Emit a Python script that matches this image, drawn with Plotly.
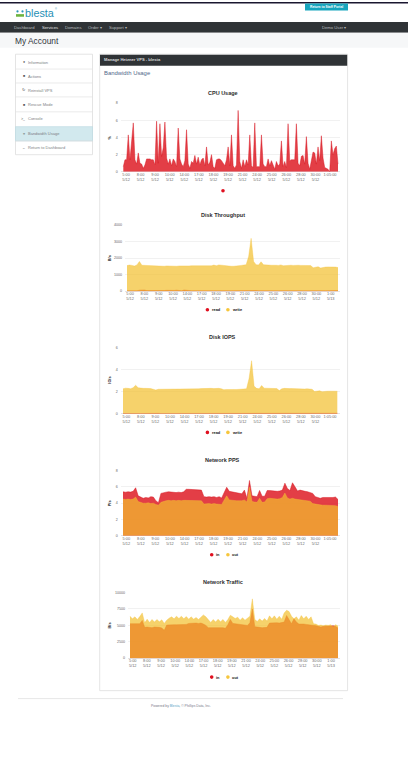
import plotly.graph_objects as go

# ---------- data ----------
cpu_values = [.6,1.4,1.4,4.3,1.4,3.6,5.7,1.4,.9,2.2,
 1.0,.9,.4,.8,1.5,1.5,1.5,1.4,1.4,.8,
 5.9,1.0,5.6,1.8,2.8,5.8,1.6,.9,1.5,.7,
 1.5,1.2,.6,5.1,1.5,.9,.6,1.3,4.9,.9,
 .4,1.2,1.0,1.9,.9,1.7,.8,1.4,1.6,.7,
 2.9,.8,1.1,2.0,.6,.4,1.4,1.5,1.5,1.3,
 1.0,.7,1.4,2.9,.7,4.3,.7,.4,.8,7.15,
 1.2,.4,1.4,.6,1.4,.8,4.3,.7,.5,5.7,
 .6,.6,.6,4.3,.9,.6,.6,1.5,.7,1.3,
 .9,.3,1.2,.7,.9,3.6,.6,1.2,.5,5.6,
 1.3,1.4,1.4,1.4,5.6,1.0,.7,1.8,1.9,.9,
 4.1,1.0,.3,1.4,2.3,2.2,.9,2.9,1.3,4.2,
 1.6,.5,.4,.3,.0,3.6,2.0,2.7,3.0,.9]

tp_read = [30,25,40,30,25,60,80,70,35,30,
 20,25,30,20,25,40,50,35,30,45,
 60,35,25,70,40,30,25,30,35,25,
 30,60,45,25,30,25,30,40,25,30,
 70,30,25,30,35,30,25,40,30,45,
 60,80,40,30,25,30,35,30,25,30,
 30,25,30,35,30,25,30,60,30,25,
 30,25,30,35,25,30,25,30,35,30,
 25,30,35,60,50,40]
tp_write = [1550,1580,1560,1520,1590,1800,1570,1560,1550,1560,
 1570,1540,1550,1520,1530,1510,1530,1520,1530,1500,
 1510,1530,1520,1540,1540,1530,1540,1540,1530,1550,
 1540,1530,1550,1520,1540,1580,1540,1590,1570,1540,
 1510,1530,1510,1510,1540,1550,1560,1580,1600,2100,
 3200,1800,1600,1590,1780,1600,1610,1580,1570,1590,
 1570,1560,1590,1540,1560,1590,1570,1560,1580,1570,
 1560,1560,1540,1560,1550,1420,1460,1480,1400,1440,
 1460,1470,1470,1490,1460,1430]

iops_read = [.03,.04,.03,.05,.03,.04,.03,.03,.04,.03,
 .03,.04,.03,.03,.04,.03,.03,.05,.03,.03,
 .04,.03,.03,.04,.03,.05,.04,.03,.03,.04,
 .03,.04,.03,.03,.05,.03,.04,.03,.03,.04,
 .05,.03,.03,.04,.03,.03,.04,.03,.05,.04,
 .06,.05,.03,.04,.03,.03,.04,.03,.03,.04,
 .03,.03,.04,.03,.05,.03,.03,.04,.03,.03,
 .04,.03,.03,.04,.03,.03,.04,.03,.05,.03,
 .03,.04,.03,.03,.04,.05]
iops_write = [2.26,2.32,2.30,2.27,2.36,2.58,2.36,2.30,2.30,2.30,
 2.30,2.28,2.22,2.15,2.22,2.22,2.20,2.24,2.20,2.26,
 2.22,2.24,2.22,2.26,2.24,2.26,2.24,2.26,2.24,2.26,
 2.26,2.28,2.30,2.26,2.28,2.30,2.28,2.32,2.30,2.26,
 2.18,2.20,2.22,2.18,2.20,2.20,2.20,2.24,2.26,2.26,
 3.2,4.8,2.5,2.30,2.26,2.56,2.32,2.30,2.28,2.28,
 2.30,2.28,2.10,2.26,2.30,2.26,2.28,2.28,2.26,2.30,
 2.28,2.26,2.24,2.26,2.24,2.22,2.02,2.06,2.08,2.00,
 2.04,2.04,2.05,2.04,2.05,2.04]

pps_in = [5.4,5.35,5.4,5.36,5.45,5.89,4.9,4.75,4.6,4.7,
 4.65,4.8,4.75,4.3,4.06,5.2,5.3,5.35,5.4,5.35,
 5.35,5.3,5.35,5.3,5.4,5.7,5.7,5.68,5.7,5.72,
 5.7,5.6,4.8,4.75,4.8,4.75,4.8,4.7,4.8,4.65,
 5.3,5.95,5.45,5.4,5.35,5.25,5.2,5.15,5.6,4.6,
 6.78,4.9,4.85,4.8,5.56,4.85,4.85,5.55,5.55,5.5,
 5.5,5.45,5.5,5.6,6.45,5.8,5.55,6.5,6.0,5.5,
 5.6,5.5,5.45,5.4,5.3,5.2,4.8,4.7,4.6,4.7,
 4.7,4.65,4.7,4.7,4.75,4.45]
pps_out = [4.5,4.45,4.5,4.45,4.5,4.75,4.2,4.05,4.0,4.0,
 4.05,3.95,4.0,3.85,3.75,4.1,4.25,4.3,4.35,4.3,
 4.35,4.3,4.35,4.3,4.35,4.35,4.3,4.35,4.35,4.3,
 4.35,4.3,3.9,3.95,3.95,3.9,3.95,3.9,3.9,3.85,
 4.4,4.9,4.4,4.35,4.35,4.3,4.3,4.3,4.4,4.15,
 5.95,4.2,4.15,4.1,4.6,4.1,4.15,4.55,4.6,4.55,
 4.55,4.5,4.55,4.7,5.25,4.65,4.5,4.6,4.5,4.45,
 4.4,4.4,4.35,4.3,4.25,3.95,3.9,3.85,3.75,3.75,
 3.75,3.75,3.7,3.75,3.7,3.6]

traffic_in = [5250,5250,5200,5250,5250,5760,4700,4750,4700,4650,
 4750,4750,4700,4600,4250,5050,5100,5150,5100,5100,
 5100,5100,5100,5150,5300,5350,5350,5350,5300,5350,
 5200,5000,4650,4650,4700,4650,4650,4600,4650,4550,
 5100,5900,5300,5250,5200,5150,5100,5050,5000,5400,
 7500,4800,4700,4700,4650,4700,4700,5350,5400,5400,
 5400,5350,5400,5500,6500,5900,5250,6000,5500,5200,
 5250,5200,5150,5100,5150,5100,4950,4850,4750,4850,
 4850,4800,4900,4950,4850,4600]
traffic_out = [6400,6000,6300,5900,6350,6900,5400,5950,5450,5900,
 5500,5900,5550,5850,5300,5800,6100,6300,6000,6400,
 6050,6400,6000,6350,5950,6300,5950,6200,5900,6300,
 6600,6300,5900,5450,5900,5500,5950,5550,5900,5450,
 5900,6550,6300,6050,6250,5800,6150,5800,6100,6400,
 9040,5900,5600,6000,5650,6050,5650,6450,6000,6450,
 5950,6400,5950,6900,7300,7100,6400,6000,6300,5800,
 6500,6000,6400,5900,6300,5250,5200,5000,5050,4950,
 5050,5000,5100,4800,5100,4900]

tick_times_a = ["5:00","8:00","9:00","10:00","14:00","17:00","18:00","19:00","21:00","24:00","25:00","26:00","28:00","30:00","1:05:00"]
tick_times_b = ["5:00","8:00","9:00","10:00","14:00","17:00","18:00","19:00","21:00","24:00","25:00","26:00","28:00","30:00","1:00"]
tick_dates = ["5/12"] * 14
tick_last_date_b = "5/13"

cpu_ticks = ["0","2","4","6","8"]
tp_ticks = ["0","1000","2000","3000","4000"]
iops_ticks = ["0","2","4","6"]
pps_ticks = ["0","2","4","6","8"]
traffic_ticks = ["0","2500","5000","7500","10000"]

legend_io = ["read","write"]
legend_net = ["in","out"]

# ---------- palette ----------
RED_FILL, RED_LINE = "rgba(222,30,40,0.86)", "rgba(215,20,30,0.9)"
YEL_FILL, YEL_LINE = "rgba(242,191,44,0.70)", "rgba(245,195,60,0.7)"
RED_DOT, YEL_DOT = "#e01020", "#f6c63c"
W, H = 408, 757
FONT = "Liberation Sans"

fig = go.Figure()
shapes, annos = [], []

def rect(x0, y0, x1, y1, fill=None, line=None, lw=0.8):
    shapes.append(dict(type="rect", xref="paper", yref="paper", x0=x0/W, x1=x1/W, y0=1-y0/H, y1=1-y1/H,
                       fillcolor=fill or "rgba(0,0,0,0)", line=dict(color=line or "rgba(0,0,0,0)", width=lw if line else 0),
                       layer="below"))

def hline(x0, x1, y, color, lw=0.8):
    shapes.append(dict(type="line", xref="paper", yref="paper", x0=x0/W, x1=x1/W, y0=1-y/H, y1=1-y/H,
                       line=dict(color=color, width=lw), layer="below"))

def dot(x, y, color, r=1.8):
    shapes.append(dict(type="circle", xref="paper", yref="paper", x0=(x-r)/W, x1=(x+r)/W, y0=1-(y+r)/H, y1=1-(y-r)/H,
                       fillcolor=color, line=dict(width=0), layer="above"))

def text(x, y, s, size, color="#333", anchor="left", bold=False, angle=0):
    annos.append(dict(xref="paper", yref="paper", x=x/W, y=1-y/H, text=f"<b>{s}</b>" if bold else s,
                      showarrow=False, xanchor=anchor, yanchor="middle", textangle=angle,
                      font=dict(family=FONT, size=size, color=color), borderpad=0, borderwidth=0))

# ---------- page chrome ----------
rect(0, 0, 408, 1.6, "#1a1730")
rect(305, 1.6, 348, 8.5, "#17a5bd")
text(326.5, 5.2, "Return to Staff Portal", 3.3, "#ffffff", "center", True)
rect(0, 20, 408, 31, "#2f3336")
rect(0, 31, 408, 46, "#f6f7f8")
# logo
text(25, 11.5, "blesta", 10.8, "#1f8fb5")
text(55.5, 7.2, "®", 2.6, "#1f8fb5")
shapes.append(dict(type="rect", xref="paper", yref="paper", x0=16/W, x1=24/W, y0=1-14.8/H, y1=1-12.2/H,
                   fillcolor="#6cb33f", line=dict(width=0), layer="below"))
dot(17.5, 9.5, "#2b94b9", 1.1)
dot(22.5, 9.5, "#2b94b9", 1.1)
for x, s, c in [(14, "Dashboard", "#b7babc"), (42, "Services", "#e4e5e6"), (65, "Domains", "#b7babc"),
                (88, "Order ▾", "#b7babc"), (109, "Support ▾", "#b7babc"), (322, "Demo User ▾", "#b7babc")]:
    text(x, 25.7, s, 4.2, c)
text(14.5, 39, "My Account", 8.4, "#30363c")

# sidebar
rect(15.5, 52.5, 92.5, 153.5, "#ffffff", "#dddddd", 0.8)
rect(15.5, 125.3, 92.5, 139.7, "#d2e9ee", "#b9d9e0", 0.6)
for y in [67.4, 81.4, 95.4, 110.4]:
    hline(15.5, 92.5, y, "#e2e2e2", 0.7)
hline(15.5, 92.5, 139.7, "#e2e2e2", 0.7)
side_items = ["Information", "Actions", "Reinstall VPS", "Rescue Mode", "Console", "Bandwidth Usage", "Return to Dashboard"]
side_icons = ["●", "■", "↻", "■", ">_", "≡", "←"]
side_y = [60.5, 74.5, 88.5, 103.5, 117.5, 132.5, 146.5]
for s, ic, y in zip(side_items, side_icons, side_y):
    text(23.8, y, ic, 3.6, "#555", "center")
    text(28, y, s, 4.0, "#7c7f84")

# main panel
rect(99.7, 52.5, 347.6, 692.3, "#ffffff", "#dddddd", 0.8)
rect(100, 53, 347.2, 64, "#2f3336")
text(104.2, 58.3, "Manage Hetzner VPS - blesta", 4.1, "#d8dadb", bold=True)
text(103.5, 71, "Bandwidth Usage", 5.9, "#50678a")

# footer
hline(18, 343, 700.3, "#dddddd", 0.7)
annos.append(dict(xref="paper", yref="paper", x=181/W, y=1-707.4/H, showarrow=False, xanchor="center", yanchor="middle",
                  text="Powered by <span style='color:#5b9fc5'>Blesta</span>, © Phillips Data, Inc.",
                  font=dict(family=FONT, size=3.4, color="#778")))

# ---------- charts ----------
layout_axes = {}

def add_chart(n, title, title_y, ylabel, grid_x, data_x, plot_y, ymax, ylabels, first_tick, last_tick,
              times, last_date, series, legend_names, legend_y, cpu_only=False):
    gl, gr = grid_x
    x0, x1 = data_x
    top, bot = plot_y
    N = len(series[0][0])
    dx = (x1 - x0) / (N - 1)
    xs = list(range(N))
    suffix = "" if n == 1 else str(n)
    for vals, fill, line, name in series:
        fig.add_trace(go.Scatter(x=xs, y=vals, mode="lines", fill="tozeroy", fillcolor=fill,
                                 line=dict(color=line, width=0.5), name=name,
                                 xaxis="x" + suffix, yaxis="y" + suffix, showlegend=False, hoverinfo="skip"))
    step = (last_tick - first_tick) / 14
    tickvals = [(first_tick + i * step - x0) / dx for i in range(15)]
    dates = tick_dates + [last_date]
    ticktext = [f"{t}<br>{d}" if d else t for t, d in zip(times, dates)]
    layout_axes["xaxis" + suffix] = dict(
        domain=[gl / W, gr / W], range=[-(x0 - gl) / dx, N - 1 + (gr - x1) / dx],
        anchor="y" + suffix, tickmode="array", tickvals=tickvals, ticktext=ticktext, tickangle=0,
        showgrid=False, zeroline=False, showline=False, ticks="", ticklen=0,
        tickfont=dict(family=FONT, size=3.9, color="#6a6a6a"), ticklabelstandoff=-1)
    layout_axes["yaxis" + suffix] = dict(
        domain=[1 - bot / H, 1 - top / H], range=[0, ymax], anchor="x" + suffix,
        tickmode="array", tickvals=[float(s) for s in ylabels], ticktext=ylabels,
        showgrid=True, gridcolor="#f1f1f1", gridwidth=0.6, zeroline=True, zerolinecolor="#e4e4e4", zerolinewidth=0.6,
        showline=False, ticks="", tickfont=dict(family=FONT, size=3.6, color="#666"), ticklabelstandoff=2)
    text(223, title_y, title, 5.5, "#2e2e2e", "center", True)
    text(110, (top + bot) / 2, ylabel, 3.8, "#222", "center", True, -90)
    if cpu_only:
        dot(223, legend_y, RED_DOT)
    else:
        text(212.3 if len(legend_names[0]) > 2 else 216, legend_y, legend_names[0], 3.9, "#111", "left", True)
        text(232.3, legend_y, legend_names[1], 3.9, "#111", "left", True)
        dot(207.4 if len(legend_names[0]) > 2 else 211.7, legend_y, RED_DOT)
        dot(227.9, legend_y, YEL_DOT)

add_chart(1, "CPU Usage", 91, "%", (120.7, 340), (123.3, 338), (101.7, 170.7), 8, cpu_ticks, 126, 330,
          tick_times_a, "", [(cpu_values, RED_FILL, RED_LINE, "cpu")], [], 189.7, cpu_only=True)
add_chart(2, "Disk Throughput", 214, "B/s", (125, 340), (127, 338), (224.3, 290.7), 4000, tp_ticks, 130, 330.7,
          tick_times_b, tick_last_date_b,
          [(tp_read, RED_FILL, RED_LINE, "read"), (tp_write, YEL_FILL, YEL_LINE, "write")], legend_io, 309.3)
add_chart(3, "Disk IOPS", 337, "IO/s", (120.7, 340), (123, 337.3), (347.3, 414), 6, iops_ticks, 126.3, 330,
          tick_times_a, "", [(iops_read, RED_FILL, RED_LINE, "read"), (iops_write, YEL_FILL, YEL_LINE, "write")],
          legend_io, 432.7)
add_chart(4, "Network PPS", 460, "P/s", (120.7, 340), (123, 338), (471, 536.7), 8, pps_ticks, 126.3, 330,
          tick_times_a, "", [(pps_in, RED_FILL, RED_LINE, "in"), (pps_out, YEL_FILL, YEL_LINE, "out")],
          legend_net, 555.7)
add_chart(5, "Network Traffic", 582.7, "B/s", (128, 340), (130, 338), (593.7, 659.7), 10000, traffic_ticks, 132.7, 331,
          tick_times_b, tick_last_date_b,
          [(traffic_in, RED_FILL, RED_LINE, "in"), (traffic_out, YEL_FILL, YEL_LINE, "out")], legend_net, 678.7)

fig.update_layout(width=W, height=H, margin=dict(l=0, r=0, t=0, b=0), paper_bgcolor="#ffffff", plot_bgcolor="rgba(0,0,0,0)",
                  showlegend=False, shapes=shapes, annotations=annos, font=dict(family=FONT), **layout_axes)

fig.write_html("out.html", config={"displayModeBar": False, "responsive": False},
               post_script="document.body.style.margin='0';document.body.style.overflow='hidden';")
